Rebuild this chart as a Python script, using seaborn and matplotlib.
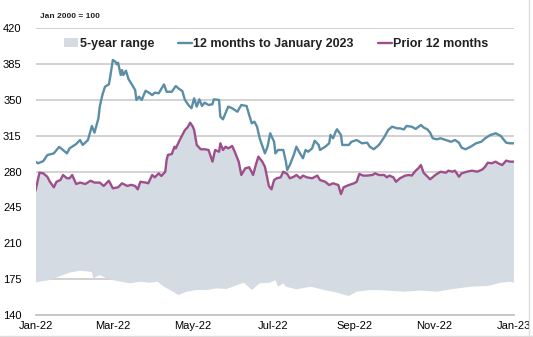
import numpy as np
import pandas as pd
import matplotlib
matplotlib.use("Agg")
import matplotlib.pyplot as plt
import matplotlib.dates as mdates
from matplotlib.lines import Line2D
import seaborn as sns

# ---------------- data ----------------
start = "2022-01-01"
series_names = ["5-year range", "12 months to January 2023", "Prior 12 months"]
x_tick_labels = ["Jan-22", "Mar-22", "May-22", "Jul-22", "Sep-22", "Nov-22", "Jan-23"]
y_ticks = [140, 175, 210, 245, 280, 315, 350, 385, 420]

# days since 1 Jan 2022
latest_days = [0, 2, 6, 9, 14, 18, 20, 24, 26, 31, 34, 36, 40, 43, 45, 48, 49, 51, 53, 56,
               57, 59, 61, 62, 63, 65, 66, 67, 69, 71, 73, 76, 77, 79, 81, 84, 86, 89, 91, 94,
               98, 100, 104, 107, 109, 112, 114, 117, 119, 121, 123, 125, 127, 129, 132, 135,
               136, 140, 141, 143, 147, 150, 154, 157, 161, 163, 165, 167, 169, 171, 175, 177,
               179, 182, 183, 185, 189, 191, 192, 194, 197, 199, 201, 204, 206, 208, 211, 213,
               216, 217, 221, 224, 225, 227, 229, 230, 233, 234, 236, 239, 241, 245, 249, 253,
               255, 258, 262, 266, 269, 272, 276, 278, 281, 283, 287, 290, 294, 296, 299, 301,
               303, 306, 309, 313, 317, 320, 323, 325, 328, 332, 336, 340, 343, 347, 351, 355,
               359, 362, 365]
latest_vals = [289.6, 288.0, 290.2, 296.0, 297.7, 304.0, 302.0, 297.7, 302.6, 306.8, 310.7,
               305.9, 310.7, 324.4, 317.9, 331.9, 343.3, 354.6, 362.7, 365.0, 372.5, 388.8,
               387.1, 384.6, 386.2, 374.1, 379.0, 374.1, 378.3, 370.0, 366.0, 359.5, 349.8,
               353.0, 349.8, 358.8, 357.3, 354.6, 356.9, 356.3, 365.0, 357.8, 357.8, 363.4,
               361.1, 358.5, 349.8, 344.3, 341.7, 351.4, 343.3, 350.4, 343.9, 347.2, 344.9,
               345.6, 350.4, 349.8, 333.5, 330.9, 343.3, 341.7, 338.3, 344.9, 343.9, 335.1,
               327.0, 328.6, 323.7, 312.4, 297.7, 304.2, 317.3, 309.0, 297.7, 301.0, 301.0,
               289.6, 281.5, 286.3, 296.1, 304.2, 299.3, 292.9, 301.0, 299.3, 302.6, 310.0,
               305.9, 301.0, 304.2, 307.5, 315.6, 312.4, 318.9, 321.2, 315.6, 305.9, 305.9,
               305.9, 309.0, 310.7, 307.5, 308.1, 304.2, 301.7, 305.9, 313.4, 320.5, 323.7,
               322.1, 322.1, 321.0, 324.4, 323.7, 321.5, 325.4, 323.0, 321.0, 317.9, 312.4,
               311.4, 312.4, 310.7, 309.0, 310.7, 308.1, 303.3, 301.7, 304.2, 307.5, 309.0,
               312.4, 315.6, 317.3, 314.6, 308.1, 307.5, 307.5]

prior_days = [0, 3, 6, 9, 11, 14, 16, 19, 21, 24, 26, 28, 31, 34, 38, 42, 45, 49, 52, 56,
              59, 63, 66, 70, 73, 76, 78, 80, 84, 86, 89, 91, 94, 96, 99, 100, 101, 104, 106,
              107, 110, 112, 114, 116, 118, 120, 121, 123, 126, 129, 132, 135, 137, 140, 141,
              143, 145, 147, 150, 152, 155, 157, 160, 163, 166, 168, 170, 173, 175, 178, 180,
              182, 184, 187, 189, 192, 194, 197, 199, 202, 204, 207, 211, 215, 217, 221, 224,
              227, 231, 233, 235, 239, 243, 245, 247, 250, 253, 257, 259, 262, 266, 268, 270,
              273, 275, 278, 282, 285, 287, 290, 292, 294, 296, 299, 301, 305, 309, 313, 315,
              318, 320, 323, 325, 329, 333, 337, 341, 343, 345, 348, 351, 353, 356, 359, 362,
              365]
prior_vals = [261.3, 278.8, 278.2, 274.9, 270.0, 264.6, 270.0, 271.7, 276.6, 273.4, 273.4,
              276.6, 267.8, 269.2, 267.8, 271.0, 269.2, 269.2, 265.9, 271.0, 263.6, 264.6,
              268.5, 265.9, 267.0, 265.9, 262.6, 270.0, 269.2, 268.5, 276.6, 274.3, 278.2,
              275.6, 279.8, 291.2, 296.1, 297.1, 304.2, 302.6, 310.7, 315.6, 320.5, 323.1,
              327.6, 323.7, 320.5, 305.9, 301.7, 301.7, 301.0, 289.6, 301.0, 299.3, 307.5,
              301.0, 304.2, 302.6, 304.9, 299.3, 289.6, 276.6, 283.1, 284.1, 276.6, 286.3,
              294.5, 289.6, 284.7, 265.9, 262.6, 271.7, 273.4, 274.3, 279.8, 277.6, 273.4,
              274.9, 276.6, 273.4, 276.0, 274.3, 273.4, 276.0, 271.7, 270.0, 266.8, 268.5,
              266.8, 258.0, 264.6, 266.8, 268.5, 270.0, 277.6, 276.0, 276.0, 276.6, 278.2,
              276.6, 276.6, 274.3, 276.0, 274.3, 270.0, 273.4, 276.0, 276.6, 276.0, 280.8,
              283.1, 286.3, 278.8, 274.9, 272.4, 276.6, 279.8, 278.8, 280.8, 279.8, 280.8,
              274.9, 278.2, 279.8, 280.8, 279.8, 282.1, 284.7, 288.6, 288.0, 289.6, 288.0,
              286.3, 290.6, 289.6, 289.6]

# 5-year range: top edge follows the prior-12-months line, bottom edge below
range_high_days = prior_days
range_high_vals = prior_vals
range_low_days = [0, 3, 11, 19, 26, 34, 43, 44, 49, 56, 65, 72, 80, 87, 93, 98, 105, 109,
                  115, 123, 131, 138, 146, 154, 159, 165, 171, 179, 183, 185, 189, 191, 199,
                  210, 220, 230, 239, 245, 255, 268, 281, 294, 306, 317, 332, 345, 355, 362,
                  365]
range_low_vals = [171.5, 172.5, 174.1, 178.0, 181.3, 183.2, 182.0, 175.8, 179.0, 174.8,
                  172.5, 170.9, 172.5, 171.5, 172.5, 167.6, 162.7, 159.5, 162.7, 164.4,
                  164.4, 166.0, 165.4, 169.3, 171.5, 164.4, 170.9, 171.5, 174.1, 167.6,
                  170.9, 167.6, 165.1, 167.6, 164.4, 161.8, 158.5, 162.7, 164.4, 163.9,
                  162.7, 163.9, 162.7, 165.1, 167.6, 168.3, 171.5, 172.5, 171.5]

# ---------------- styling ----------------
BLUE = "#5b8ea6"
PURPLE = "#9e4f8b"
AREA = "#d5dbe3"
GRID = "#cfcfcf"

sns.set_theme(style="white")
plt.rcParams["font.family"] = ["Liberation Sans", "DejaVu Sans"]

t0 = pd.Timestamp(start)
to_dates = lambda d: t0 + pd.to_timedelta(np.asarray(d), unit="D")

latest = pd.DataFrame({"date": to_dates(latest_days), "value": latest_vals})
prior = pd.DataFrame({"date": to_dates(prior_days), "value": prior_vals})

fig = plt.figure(figsize=(5.33, 3.37), dpi=100)
ax = fig.add_axes([35.5 / 533, 22 / 337, (514 - 35.5) / 533, 287 / 337])

# 5-year range area
hi_d = to_dates(range_high_days)
lo_d = to_dates(range_low_days)
poly_x = mdates.date2num(np.concatenate([hi_d.values, lo_d.values[::-1]]))
poly_y = np.concatenate([np.asarray(range_high_vals), np.asarray(range_low_vals)[::-1]])
area = ax.fill(poly_x, poly_y, color=AREA, lw=0, zorder=1, label=series_names[0])[0]

sns.lineplot(data=latest, x="date", y="value", ax=ax, color=BLUE, lw=1.7,
             zorder=3, label=series_names[1])
sns.lineplot(data=prior, x="date", y="value", ax=ax, color=PURPLE, lw=1.7,
             zorder=3, label=series_names[2])

ax.set_ylim(140, 420)
ax.set_yticks(y_ticks)
ax.set_xlim(t0, t0 + pd.Timedelta(days=365))
tick_dates = pd.date_range(start, periods=len(x_tick_labels), freq="2MS")
ax.set_xticks(tick_dates)
ax.set_xticklabels(x_tick_labels)
ax.set_xlabel("")
ax.set_ylabel("")

ax.yaxis.grid(True, color=GRID, lw=1.3, zorder=0)
ax.set_axisbelow(True)
for s in ["top", "left", "right"]:
    ax.spines[s].set_visible(False)
ax.spines["bottom"].set_color("#c4c4c4")
ax.spines["bottom"].set_linewidth(1.3)
ax.tick_params(axis="both", length=0, labelsize=8, colors="black")
ax.tick_params(axis="y", pad=10)
ax.tick_params(axis="x", pad=4)

handles, labels = ax.get_legend_handles_labels()
leg = ax.legend(handles, labels, loc="center", bbox_to_anchor=(0.503, 0.944), ncol=3,
                frameon=False, handlelength=1.15, handletextpad=0.1, columnspacing=1.9,
                prop={"weight": "bold", "size": 9})
for t in leg.get_texts():
    t.set_color("#222222")

fig.text(40 / 533, 1 - 16 / 337, "Jan 2000 = 100", fontsize=6, fontweight="bold",
         va="center", ha="left", color="#222222")

# faint frame at right and bottom of the image
fig.add_artist(Line2D([528.5 / 533, 528.5 / 533], [0, 1], color="#dddddd", lw=1))
fig.add_artist(Line2D([0, 1], [1.5 / 337, 1.5 / 337], color="#dddddd", lw=1))

fig.savefig("out.png", dpi=100)
